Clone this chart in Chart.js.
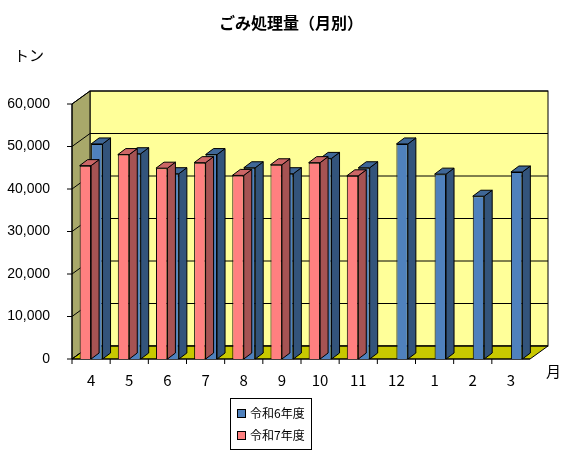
<!DOCTYPE html>
<html><head><meta charset="utf-8">
<script src="https://cdn.jsdelivr.net/npm/chart.js@4"></script>
<style>
body{margin:0;background:#fff;font-family:"Noto Sans CJK JP",sans-serif}
#wrap{position:relative;width:582px;height:455px}
.t{position:absolute;white-space:nowrap;color:#000}
#legend{position:absolute;left:230px;top:398px;border:1px solid #000;padding:3px 6px;font-size:12px;line-height:22px}
#legend span{display:inline-block;width:7px;height:7px;border:1px solid #000;margin-right:4px}
</style></head><body>
<div id="wrap">
<canvas id="c" width="582" height="455"></canvas>
<div class="t" style="left:0;width:582px;top:10px;text-align:center;font-weight:bold;font-size:16px">ごみ処理量（月別）</div>
<div class="t" style="left:14px;top:44px;font-size:15px">トン</div>
<div class="t" style="left:546px;top:360px;font-size:15px">月</div>
<div id="legend"><div><span style="background:#4F81BD"></span>令和6年度</div><div><span style="background:#FF8080"></span>令和7年度</div></div>
</div>
<script>
const months = ["4", "5", "6", "7", "8", "9", "10", "11", "12", "1", "2", "3"];
const r6 = [50600, 48300, 43600, 48100, 45000, 43600, 47200, 45000, 50600, 43500, 38300, 44000];
const r7 = [45500, 48100, 44900, 46200, 43200, 45700, 46200, 43100, null, null, null, null];
const yTicks = [0, 10000, 20000, 30000, 40000, 50000, 60000];

const DX = 18, DY = -13, BX = 8, BY = -6;

function shade(hex, f) {
  let n = parseInt(hex.slice(1), 16);
  let r = Math.round(((n >> 16) & 255) * f), g = Math.round(((n >> 8) & 255) * f), b = Math.round((n & 255) * f);
  return `rgb(${r},${g},${b})`;
}

const box3d = {
  id: "box3d",
  beforeDatasetsDraw(chart) {
    const ctx = chart.ctx, a = chart.chartArea, y = chart.scales.y;
    ctx.save();
    ctx.strokeStyle = "#000"; ctx.lineWidth = 1;
    // back wall
    ctx.fillStyle = "#FFFF99";
    ctx.fillRect(a.left + DX, a.top + DY, a.right - a.left, a.bottom - a.top);
    ctx.strokeRect(a.left + DX, a.top + DY, a.right - a.left, a.bottom - a.top);
    // left wall
    ctx.fillStyle = "#A8A86A";
    ctx.beginPath();
    ctx.moveTo(a.left, a.top); ctx.lineTo(a.left + DX, a.top + DY);
    ctx.lineTo(a.left + DX, a.bottom + DY); ctx.lineTo(a.left, a.bottom);
    ctx.closePath(); ctx.fill(); ctx.stroke();
    // floor
    ctx.fillStyle = "#C8C800";
    ctx.beginPath();
    ctx.moveTo(a.left, a.bottom); ctx.lineTo(a.left + DX, a.bottom + DY);
    ctx.lineTo(a.right + DX, a.bottom + DY); ctx.lineTo(a.right, a.bottom);
    ctx.closePath(); ctx.fill(); ctx.stroke();
    // grid lines on walls
    yTicks.forEach(v => {
      const p = y.getPixelForValue(v);
      ctx.beginPath();
      ctx.moveTo(a.left, p); ctx.lineTo(a.left + DX, p + DY); ctx.lineTo(a.right + DX, p + DY);
      ctx.stroke();
      ctx.beginPath(); ctx.moveTo(a.left - 5, p); ctx.lineTo(a.left, p); ctx.stroke();
    });
    ctx.beginPath(); ctx.moveTo(a.left, a.top); ctx.lineTo(a.left, a.bottom); ctx.lineTo(a.right, a.bottom); ctx.stroke();
    const w = (a.right - a.left) / months.length;
    months.forEach((m, i) => {
      const px = a.left + w * i;
      ctx.beginPath(); ctx.moveTo(px, a.bottom); ctx.lineTo(px, a.bottom + 5); ctx.stroke();
    });
    ctx.restore();
  },
  afterDatasetDraw(chart, args) {
    const ctx = chart.ctx, ds = chart.data.datasets[args.index];
    ctx.save();
    ctx.strokeStyle = "#000"; ctx.lineWidth = 1;
    args.meta.data.forEach((bar, i) => {
      if (ds.data[i] == null) return;
      const l = bar.x - bar.width / 2, r = bar.x + bar.width / 2, t = bar.y, b = bar.base;
      ctx.fillStyle = shade(ds.backgroundColor, 0.65);
      ctx.beginPath();
      ctx.moveTo(r, t); ctx.lineTo(r + BX, t + BY); ctx.lineTo(r + BX, b + BY); ctx.lineTo(r, b);
      ctx.closePath(); ctx.fill(); ctx.stroke();
      ctx.fillStyle = shade(ds.backgroundColor, 0.8);
      ctx.beginPath();
      ctx.moveTo(l, t); ctx.lineTo(l + BX, t + BY); ctx.lineTo(r + BX, t + BY); ctx.lineTo(r, t);
      ctx.closePath(); ctx.fill(); ctx.stroke();
    });
    ctx.restore();
  }
};

new Chart(document.getElementById("c"), {
  type: "bar",
  data: {
    labels: months,
    datasets: [
      { label: "令和6年度", data: r6, backgroundColor: "#4F81BD", borderColor: "#000", borderWidth: 1, order: 1 },
      { label: "令和7年度", data: r7, backgroundColor: "#FF8080", borderColor: "#000", borderWidth: 1, order: 0 }
    ]
  },
  options: {
    responsive: false, animation: false,
    layout: { padding: { top: 104, right: 52, bottom: 62, left: 0 } },
    plugins: { legend: { display: false }, tooltip: { enabled: false } },
    datasets: { bar: { categoryPercentage: 0.6, barPercentage: 1, skipNull: false } },
    scales: {
      x: {
        grid: { display: false }, border: { display: false },
        ticks: { color: "#000", font: { size: 15, family: "Noto Sans CJK JP" }, padding: 4 }
      },
      y: {
        min: 0, max: 60000,
        afterFit(s) { s.width = 72; },
        afterBuildTicks(s) { s.ticks = yTicks.map(v => ({ value: v })); },
        grid: { display: false }, border: { display: false },
        ticks: { color: "#000", font: { size: 14, family: "Liberation Sans" }, padding: 14,
          callback: v => v.toLocaleString("en-US") }
      }
    }
  },
  plugins: [box3d]
});
</script>
</body></html>
